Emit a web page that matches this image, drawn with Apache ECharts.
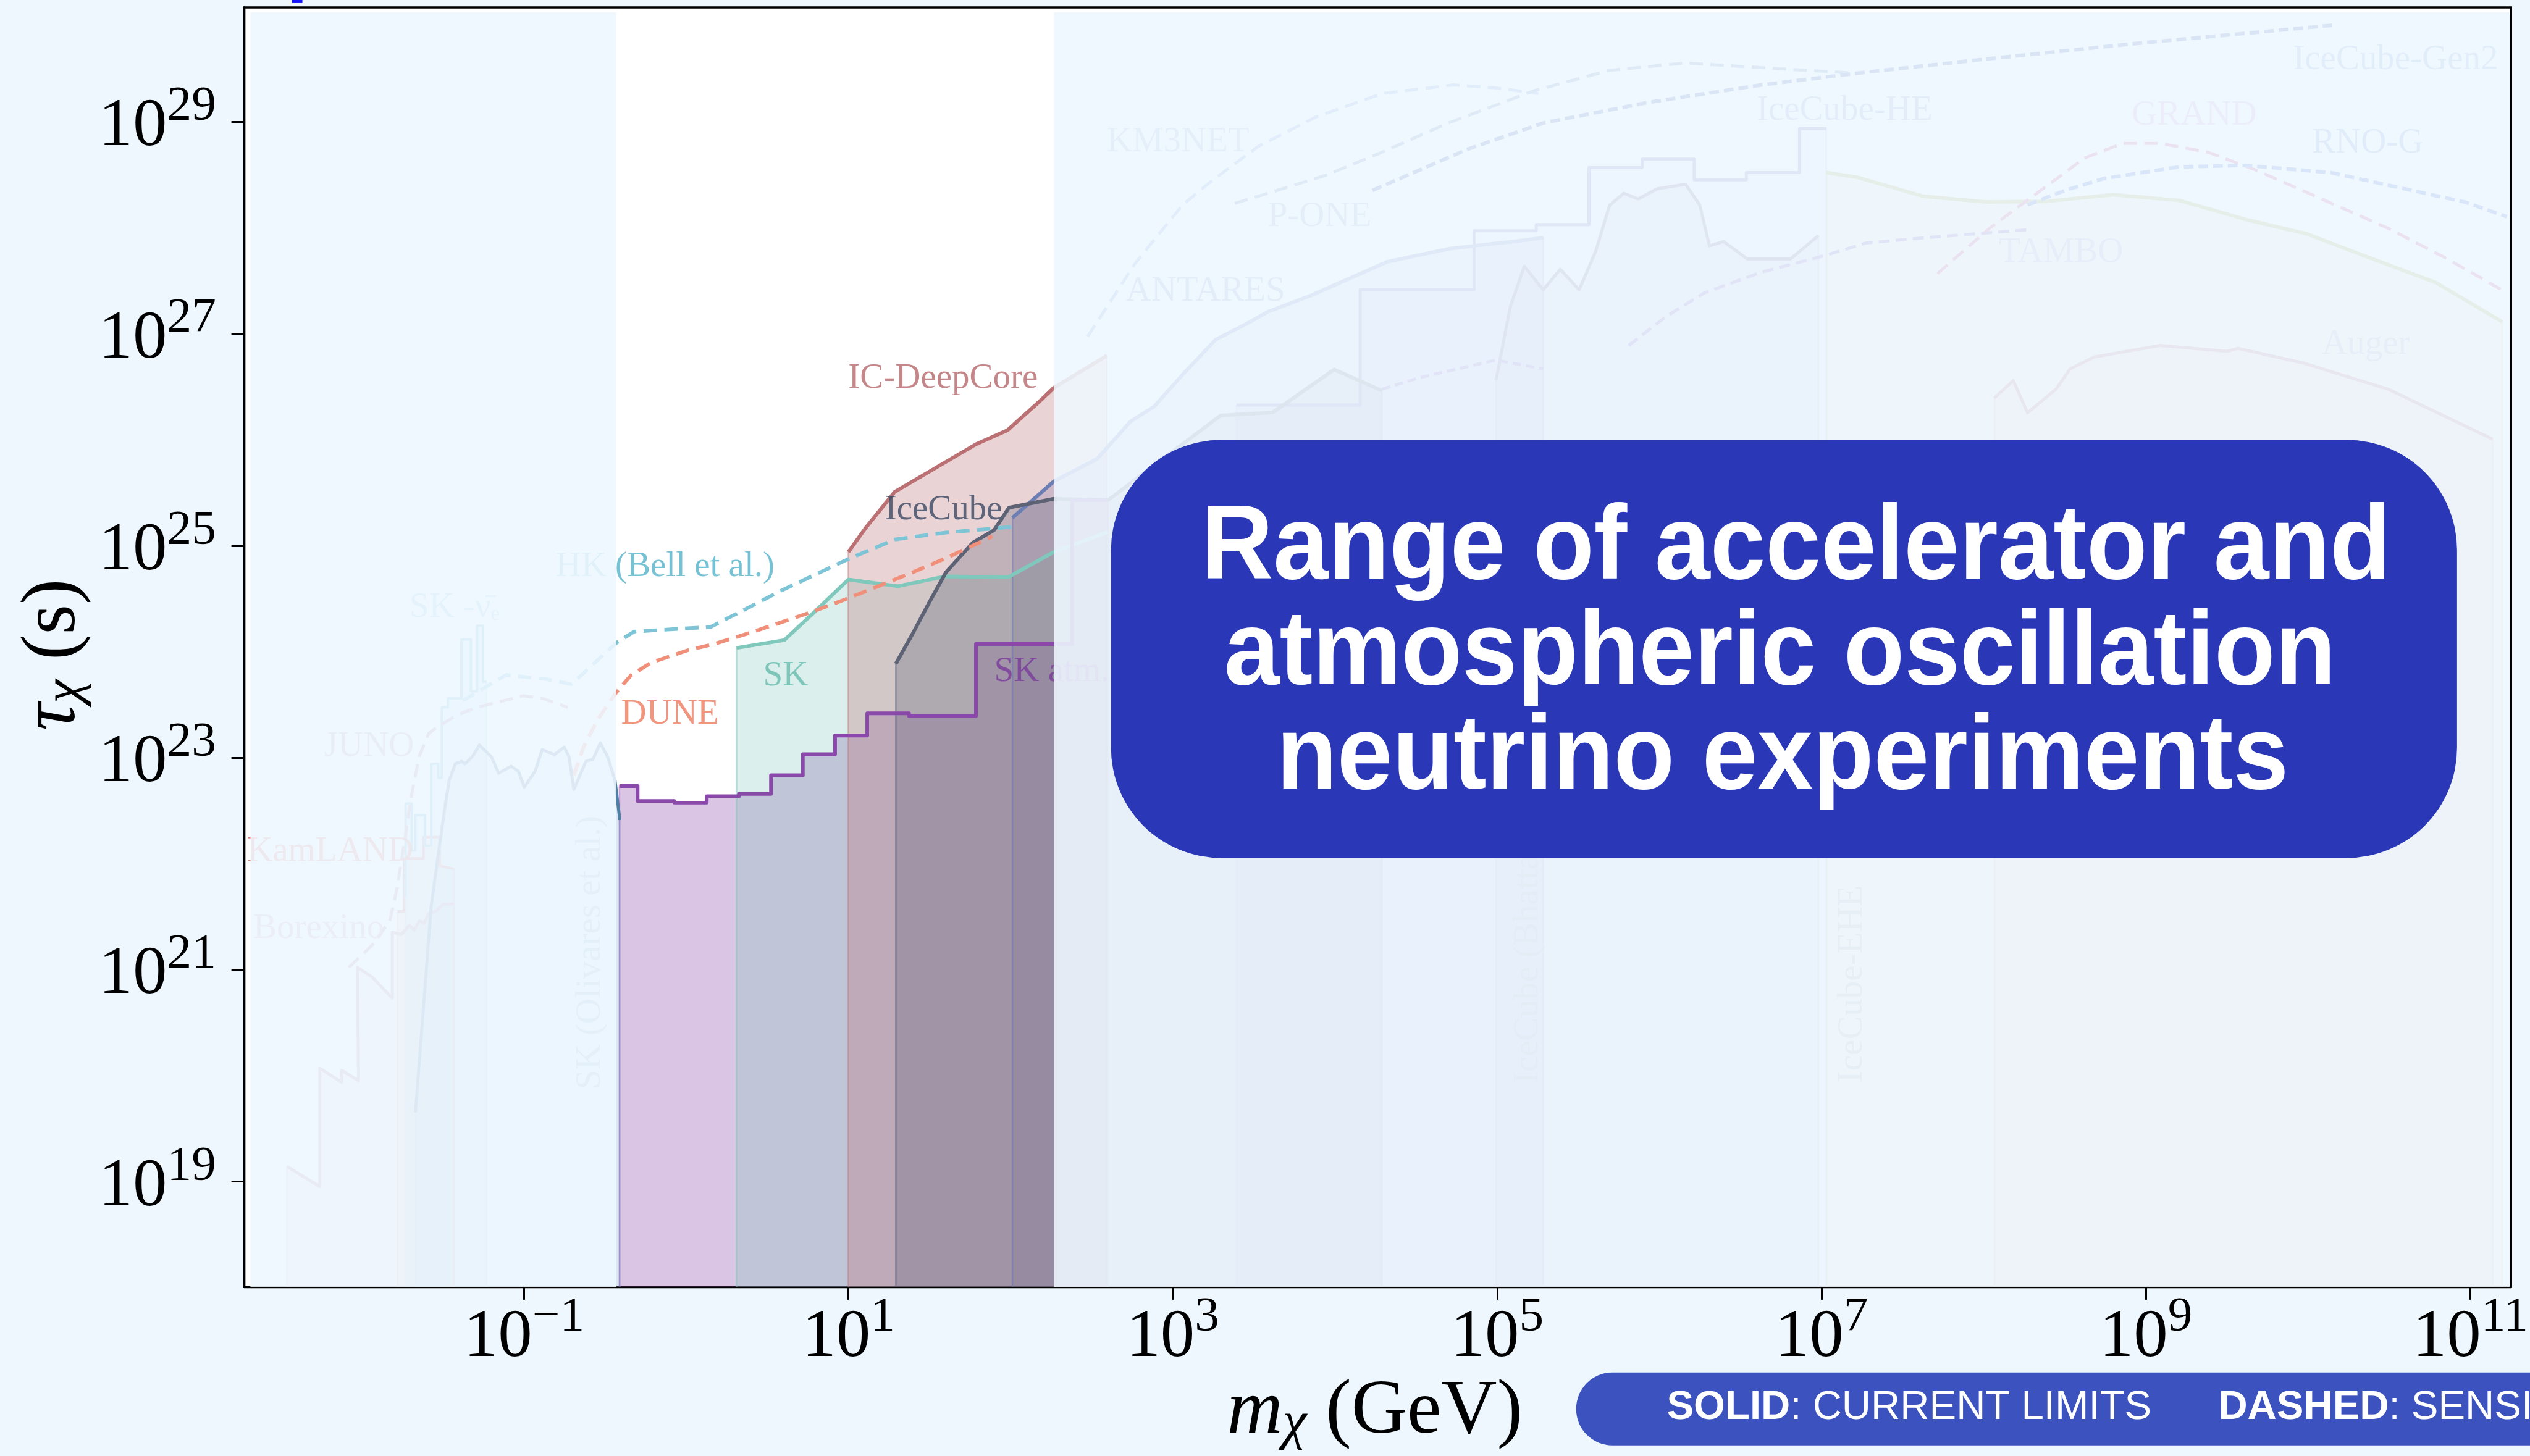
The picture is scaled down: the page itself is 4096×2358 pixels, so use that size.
<!DOCTYPE html>
<html><head><meta charset="utf-8">
<script src="https://cdn.jsdelivr.net/npm/echarts@6/dist/echarts.min.js"></script>
<style>html,body{margin:0;padding:0;background:#eef7fe;overflow:hidden}#c{width:4096px;height:2358px}</style>
</head><body><div id="c"></div>
<script>
const S = 0.991;
const F = "'Liberation Serif','Times New Roman',serif";
const SANS = "'Liberation Sans',Arial,sans-serif";

// ---- axes (values are log10 of m [GeV] and log10 of tau [s]) ----
const X_MIN = -2.725, X_MAX = 11.251, Y_MIN = 18.007, Y_MAX = 30.08;
const xTickExps = [-1, 1, 3, 5, 7, 9, 11];
const yTickExps = [19, 21, 23, 25, 27, 29];

// ---- highlighted experiments: [log10 m, log10 tau] ----
const skAtm = [[-0.4115,22.732],[-0.2995,22.732],[-0.2995,22.591],[-0.0739,22.591],[-0.0739,22.576],[0.1267,22.576],[0.1267,22.637],[0.3248,22.637],[0.3248,22.658],[0.5228,22.658],[0.5228,22.835],[0.719,22.835],[0.719,23.032],[0.9178,23.032],[0.9178,23.209],[1.1162,23.209],[1.1162,23.418],[1.3738,23.418],[1.3738,23.394],[1.7865,23.394],[1.7865,24.072],[2.379,24.072],[2.379,25.43],[2.6,25.43]];
const skTeal = [[0.3104,24.035],[0.605,24.11],[0.785,24.367],[0.9996,24.681],[1.306,24.618],[1.5926,24.71],[1.9864,24.704],[2.2675,24.941],[2.6,25.13]];
const icDeepCore = [[1.0,24.941],[1.1113,25.178],[1.286,25.509],[1.7865,25.957],[1.981,26.09],[2.182,26.367],[2.2656,26.489],[2.594,26.794]];
const iceCube = [[1.2924,23.886],[1.398,24.175],[1.5,24.469],[1.6017,24.75],[1.7677,25.029],[1.8997,25.149],[1.99,25.359],[2.2675,25.443],[2.6,25.43],[3.295,26.229],[3.615,26.257],[3.996,26.662],[4.29,26.462]];
const antares = [[2.0117,25.264],[2.2647,25.605],[2.533,25.819],[2.739,26.173],[2.884,26.311],[3.061,26.615],[3.265,26.946],[3.441,27.083],[3.587,27.208],[3.85,27.36],[4.319,27.678],[4.699,27.801],[4.934,27.843],[5.11,27.871],[5.285,27.906]];
const hk = [[-1.3784,23.538],[-1.2313,23.671],[-1.1105,23.781],[-0.8578,23.74],[-0.7069,23.694],[-0.424,24.092],[-0.3195,24.19],[0.1509,24.234],[0.3757,24.41],[0.5794,24.572],[0.9894,24.867],[1.286,25.059],[1.6017,25.124],[2.0117,25.178]];
const dune = [[-0.693,22.834],[-0.633,23.1],[-0.5447,23.362],[-0.4315,23.616],[-0.341,23.777],[-0.2173,23.896],[0.0079,24.013],[0.1712,24.072],[0.4172,24.19],[0.785,24.381],[0.9894,24.499],[1.398,24.75],[1.6017,24.883],[1.888,25.088]];

// ---- faded experiments ----
const skOlivares = [[-1.6696,19.652],[-1.5726,21.595],[-1.5292,22.083],[-1.484,22.568],[-1.4613,22.787],[-1.4236,22.943],[-1.3859,22.966],[-1.3633,22.943],[-1.3191,23.009],[-1.2746,23.119],[-1.2011,23.009],[-1.1558,22.854],[-1.0803,22.92],[-1.0351,22.874],[-0.9985,22.721],[-0.9313,22.874],[-0.888,23.076],[-0.8125,23.03],[-0.7522,23.1],[-0.722,23.009],[-0.693,22.701],[-0.6183,22.966],[-0.5749,22.986],[-0.5296,23.14],[-0.4843,23.009],[-0.4391,22.787],[-0.4089,22.412]];
const juno = [[-2.0802,21.021],[-1.9306,21.24],[-1.8272,21.462],[-1.782,21.771],[-1.7367,22.213],[-1.6922,22.655],[-1.6473,23.009],[-1.5877,23.229],[-1.5292,23.296],[-1.4085,23.405],[-1.2893,23.475],[-1.006,23.584],[-0.888,23.561],[-0.7299,23.475]];
const borexino = [[-2.4623,19.144],[-2.2588,18.954],[-2.2588,20.07],[-2.1252,19.938],[-2.1252,20.05],[-2.0204,19.953],[-2.0271,21.021],[-1.9381,20.932],[-1.8121,20.732],[-1.8121,21.352],[-1.7556,21.333],[-1.7065,21.419],[-1.6764,21.373],[-1.6462,21.46],[-1.616,21.442],[-1.5877,21.529],[-1.5443,21.552],[-1.4991,21.616],[-1.432,21.62]];
const kamland = [[-1.78,21.55],[-1.74,21.55],[-1.74,22.05],[-1.62,22.05],[-1.62,22.25],[-1.52,22.25],[-1.52,21.98],[-1.432,21.95]];
const skNuBar = [[-1.73,21.685],[-1.73,22.568],[-1.692,22.568],[-1.692,22.124],[-1.67,22.124],[-1.67,22.459],[-1.61,22.459],[-1.61,22.17],[-1.573,22.17],[-1.573,22.943],[-1.529,22.943],[-1.529,22.81],[-1.507,22.81],[-1.507,23.475],[-1.469,23.475],[-1.469,23.561],[-1.386,23.561],[-1.386,24.116],[-1.327,24.116],[-1.327,23.627],[-1.289,23.627],[-1.289,24.246],[-1.252,24.246],[-1.252,23.717],[-1.23,23.717]];
const iceCubeHE = [[3.393,26.327],[4.155,26.327],[4.155,27.415],[4.857,27.415],[4.857,27.972],[5.241,27.972],[5.241,28.03],[5.566,28.03],[5.566,28.567],[5.894,28.567],[5.894,28.648],[6.215,28.648],[6.215,28.452],[6.536,28.452],[6.536,28.521],[6.864,28.521],[6.864,28.936],[7.03,28.936]];
const bhatt = [[4.993,26.559],[5.08,27.25],[5.167,27.637],[5.284,27.415],[5.389,27.609],[5.506,27.415],[5.607,27.776],[5.694,28.215],[5.781,28.326],[5.87,28.272],[5.987,28.368],[6.162,28.411],[6.249,28.215],[6.309,27.829],[6.396,27.871],[6.543,27.705],[6.807,27.705],[6.981,27.926]];
const ehe = [[7.03,28.521],[7.217,28.478],[7.626,28.298],[8.007,28.244],[8.388,28.249],[8.797,28.313],[9.207,28.258],[9.616,28.078],[9.997,27.94],[10.377,27.718],[10.787,27.484],[11.197,27.112]];
const auger = [[8.065,26.393],[8.182,26.559],[8.27,26.255],[8.445,26.477],[8.533,26.669],[8.68,26.78],[9.089,26.89],[9.499,26.835],[9.568,26.863],[9.968,26.725],[10.494,26.477],[11.138,26.006]];
const km3net = [[2.475,26.973],[2.767,27.663],[3.061,28.216],[3.235,28.437],[3.529,28.769],[3.88,29.044],[4.29,29.266],[4.729,29.348],[4.992,29.32],[5.255,29.266]];
const pone = [[3.382,28.23],[3.938,28.492],[4.29,28.713],[4.699,28.989],[5.227,29.293],[5.694,29.486],[6.162,29.555],[6.747,29.5],[7.217,29.458]];
const gen2 = [[4.231,28.353],[4.816,28.74],[5.285,28.989],[5.928,29.182],[6.63,29.348],[7.217,29.458],[8.036,29.596],[8.914,29.735],[10.172,29.914]];
const tambo = [[5.811,26.89],[6.045,27.166],[6.279,27.387],[6.63,27.581],[7.041,27.747],[7.275,27.857],[7.685,27.912],[8.27,27.981]];
const grand = [[7.714,27.568],[8.036,27.995],[8.327,28.326],[8.622,28.658],[8.856,28.796],[9.089,28.796],[9.382,28.713],[9.674,28.547],[10.085,28.271],[10.494,27.995],[10.845,27.718],[11.226,27.387]];
const rnoG = [[8.27,28.216],[8.504,28.354],[8.738,28.464],[8.973,28.52],[9.207,28.575],[9.616,28.589],[10.142,28.52],[10.553,28.382],[10.963,28.244],[11.226,28.105]];
const smallDash = [[4.29,26.477],[4.524,26.587],[4.992,26.752],[5.285,26.669]];

// ---- fade overlay ranges (log10 m) ----
const fadeLeft = [-2.687, -0.4315];
const fadeRight = [2.2675, 11.243];
const fadeTop = 30.033;

// ---- curve labels: [text, log10 m, log10 tau, colour, rotation] ----
const labelItems = [
  ['IC-DeepCore', 0.9993, 26.575, '#b5686c', 0],
  ['IceCube', 1.2257, 25.334, '#3b4862', 0],
  ['HK (Bell et al.)', -0.805, 24.803, '#55b2cb', 0],
  ['SK', 0.4743, 23.769, '#66bcae', 0],
  ['DUNE', -0.4015, 23.411, '#ee7b5e', 0],
  ['SK atm.', 1.899, 23.809, '#7b3a9c', 0],
  ['KM3NET', 2.593, 28.81, '#7d9fc8', 0],
  ['P-ONE', 3.586, 28.105, '#8094b8', 0],
  ['ANTARES', 2.71, 27.4, '#6f88b8', 0],
  ['IceCube-HE', 6.6, 29.104, '#6f8ab8', 0],
  ['IceCube-Gen2', 9.907, 29.583, '#6a8ac0', 0],
  ['GRAND', 8.912, 29.058, '#c090c0', 0],
  ['RNO-G', 10.024, 28.798, '#5a80c0', 0],
  ['TAMBO', 8.094, 27.764, '#9a8ac8', 0],
  ['Auger', 10.085, 26.898, '#a890b8', 0],
  ['IceCube (Bhattacharya et al.)', 5.19, 19.924, '#8c94a8', 90],
  ['IceCube-EHE', 7.191, 19.935, '#98a0a8', 90],
  ['SK (Olivares et al.)', -0.59, 19.872, '#7ea8c8', 90],
  ['KamLAND', -2.707, 22.112, '#e05a48', 0],
  ['Borexino', -2.669, 21.385, '#c090a8', 0],
  ['JUNO', -2.232, 23.105, '#b08aa0', 0],
  ['SK -\u03BD\u0304\u2091', -1.707, 24.416, '#78c0d4', 0]
];

function withBase(d) { return [[d[0][0], Y_MIN]].concat(d, [[d[d.length - 1][0], Y_MIN]]); }
function fillS(d, color, op) {
  return { type: 'line', data: withBase(d), symbol: 'none', silent: true, z: 2,
    lineStyle: { color: color, width: 2.5 * S, opacity: 0.5 },
    areaStyle: { color: color, opacity: op, origin: 'start' } };
}
function lineS(d, color, w, dash) {
  return { type: 'line', data: d, symbol: 'none', silent: true, z: 2,
    lineStyle: { color: color, width: w * S, type: dash ? dash.map(v => v * S) : 'solid', cap: 'butt', join: 'round' } };
}

const series = [
  // faded fills
  fillS(borexino, '#c89aae', 0.3),
  fillS(kamland, '#d98a80', 0.3),
  fillS(skNuBar, '#7cc4d8', 0.3),
  fillS(skOlivares, '#7fb0d0', 0.3),
  fillS(iceCubeHE, '#7a7fc8', 0.25),
  fillS(bhatt, '#8a86b0', 0.25),
  fillS(ehe, '#b8b870', 0.25),
  fillS(auger, '#c08090', 0.25),
  fillS(antares, '#6678b8', 0.28),
  // main fills
  fillS(skAtm, '#8c4baa', 0.32),
  fillS(skTeal, '#7cc6b9', 0.28),
  fillS(icDeepCore, '#b96e70', 0.30),
  fillS(iceCube, '#555d78', 0.28),
  // faded lines
  lineS(borexino, '#c08aa0', 5),
  lineS(kamland, '#d07a70', 4),
  lineS(skNuBar, '#6ab8d0', 4),
  lineS(skOlivares, '#4f7fa4', 5),
  lineS(juno, '#b888a0', 5, [22, 12]),
  lineS(iceCubeHE, '#6a5fb0', 5),
  lineS(bhatt, '#6a6090', 5),
  lineS(ehe, '#a8a840', 6),
  lineS(auger, '#b8607a', 5),
  lineS(km3net, '#7da0d3', 5, [22, 12]),
  lineS(pone, '#6e84b8', 5, [22, 12]),
  lineS(gen2, '#3a5aa8', 6, [16, 8]),
  lineS(tambo, '#7d50b0', 5, [18, 10]),
  lineS(grand, '#d04080', 5, [22, 12]),
  lineS(rnoG, '#3a63c8', 6, [16, 8]),
  lineS(smallDash, '#7d50b0', 5, [14, 8]),
  // main lines
  lineS(antares, '#6c7fb4', 6),
  lineS(skTeal, '#80c8bc', 6),
  lineS(icDeepCore, '#bb7073', 6),
  lineS(iceCube, '#5d6275', 6),
  lineS(hk, '#7cc4d6', 6, [22, 12]),
  lineS(dune, '#f0907a', 6, [22, 12]),
  lineS(skAtm, '#8a48ab', 6),
  // labels
  { type: 'scatter', silent: true, z: 3, symbolSize: 1, itemStyle: { color: 'rgba(0,0,0,0)' },
    data: labelItems.map(l => ({ value: [l[1], l[2]], label: { show: true, position: 'inside',
      formatter: l[0], color: l[3], rotate: l[4], align: 'left', verticalAlign: 'middle',
      fontFamily: F, fontSize: 57.5 * S } })) },
  // fade overlay
  { type: 'line', data: [[5, 20]], symbol: 'none', silent: true, z: 10, lineStyle: { width: 0 },
    markArea: { silent: true, z: 10, itemStyle: { color: 'rgba(238,247,255,0.885)', borderWidth: 0 },
      data: [
        [{ xAxis: fadeLeft[0], yAxis: Y_MIN }, { xAxis: fadeLeft[1], yAxis: fadeTop }],
        [{ xAxis: fadeRight[0], yAxis: Y_MIN }, { xAxis: fadeRight[1], yAxis: fadeTop }]
      ] } }
];

const expFmt = v => '{b|10}{s|' + (v < 0 ? '\u2212' : '') + Math.abs(v) + '}';
const tickRich = {
  b: { fontFamily: F, fontSize: 112 * S, lineHeight: 130 * S, verticalAlign: 'bottom', color: '#000' },
  s: { fontFamily: F, fontSize: 80 * S, lineHeight: 64 * S, verticalAlign: 'top', color: '#000' }
};

function txt(opts) { return Object.assign({ type: 'text', z: 100, silent: true }, opts); }
const titleShadow = { shadowColor: 'rgba(0,0,30,0.8)', shadowBlur: 10, shadowOffsetX: 8 * S, shadowOffsetY: 7 * S };
const titleFont = 'bold ' + (173 * S) + 'px ' + SANS;
function titleLine(t, cx, base) {
  return txt({ x: cx * S, y: (base - 57) * S, scaleX: 0.94,
    style: Object.assign({ text: t, font: titleFont, fill: '#fff', textAlign: 'center', align: 'center', textVerticalAlign: 'middle', verticalAlign: 'middle' }, titleShadow) });
}
const axRich = {
  i: { fontFamily: F, fontStyle: 'italic', fontSize: 126 * S, lineHeight: 126 * S, verticalAlign: 'bottom', fill: '#000' },
  sub: { fontFamily: F, fontStyle: 'italic', fontSize: 88 * S, lineHeight: 70 * S, verticalAlign: 'bottom', fill: '#000' },
  n: { fontFamily: F, fontSize: 126 * S, lineHeight: 126 * S, verticalAlign: 'bottom', fill: '#000' }
};
const pillRich = {
  b: { fontFamily: SANS, fontWeight: 'bold', fontSize: 66 * S, fill: '#fff' },
  n: { fontFamily: SANS, fontSize: 66 * S, fill: '#fff' }
};

const option = {
  animation: false,
  backgroundColor: '#eef7fe',
  grid: { left: 399 * S, top: 12 * S, width: (4104 - 399) * S, height: (2103 - 12) * S,
    show: true, backgroundColor: '#ffffff', borderColor: '#000', borderWidth: 3.5 * S },
  xAxis: { type: 'value', min: X_MIN, max: X_MAX,
    axisLine: { show: true, onZero: false, lineStyle: { color: '#000', width: 3.5 * S } },
    axisTick: { show: true, customValues: xTickExps, length: 21 * S, lineStyle: { color: '#000', width: 3 * S } },
    axisLabel: { show: true, customValues: xTickExps, formatter: expFmt, rich: tickRich, margin: 10 * S },
    splitLine: { show: false } },
  yAxis: { type: 'value', min: Y_MIN, max: Y_MAX,
    axisLine: { show: true, onZero: false, lineStyle: { color: '#000', width: 3.5 * S } },
    axisTick: { show: true, customValues: yTickExps, length: 21 * S, lineStyle: { color: '#000', width: 3 * S } },
    axisLabel: { show: true, customValues: yTickExps, formatter: expFmt, rich: tickRich, margin: 46 * S, align: 'right' },
    splitLine: { show: false } },
  series: series,
  graphic: { elements: [
    { type: 'rect', z: 100, silent: true, shape: { x: 477 * S, y: 0, width: 17 * S, height: 5 * S }, style: { fill: '#1515ff' } },
    { type: 'rect', z: 100, silent: true, shape: { x: 1815 * S, y: 719 * S, width: 2199 * S, height: 683 * S, r: 180 * S }, style: { fill: '#2a37b7' } },
    titleLine('Range of accelerator and', 2934, 955),
    titleLine('atmospheric oscillation', 2908, 1127),
    titleLine('neutrino experiments', 2912, 1298),
    { type: 'rect', z: 100, silent: true, shape: { x: 2575 * S, y: 2243 * S, width: 1800, height: 119 * S, r: 59 * S }, style: { fill: '#3c52be' } },
    txt({ x: 2723 * S, y: 2301 * S, style: { text: '{b|SOLID}{n|: CURRENT LIMITS}', rich: pillRich, textAlign: 'left', align: 'left', textVerticalAlign: 'middle', verticalAlign: 'middle' } }),
    txt({ x: 3624 * S, y: 2301 * S, style: { text: '{b|DASHED}{n|: SENSITIVITIES}', rich: pillRich, textAlign: 'left', align: 'left', textVerticalAlign: 'middle', verticalAlign: 'middle' } }),
    txt({ x: 2246 * S, y: (2350 - 42) * S, style: { text: '{i|m}{sub|\u03C7}{n| (GeV)}', rich: axRich, textAlign: 'center', align: 'center', textVerticalAlign: 'middle', verticalAlign: 'middle' } }),
    txt({ x: (130 - 42) * S, y: 1070 * S, rotation: Math.PI / 2, style: { text: '{i|\u03C4}{sub|\u03C7}{n| (s)}', rich: axRich, textAlign: 'center', align: 'center', textVerticalAlign: 'middle', verticalAlign: 'middle' } })
  ] }
};

const chart = echarts.init(document.getElementById('c'), null, { renderer: 'canvas', width: 4096, height: 2358 });
chart.setOption(option);
</script>
</body></html>
